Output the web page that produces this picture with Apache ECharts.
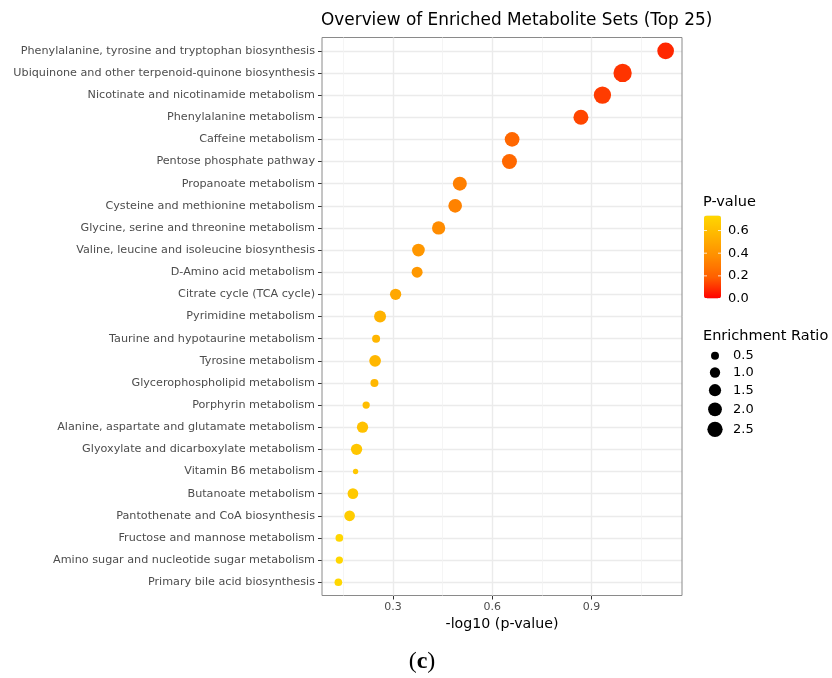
<!DOCTYPE html>
<html><head><meta charset="utf-8">
<script src="https://cdn.jsdelivr.net/npm/echarts@6/dist/echarts.min.js"></script>
<style>html,body{margin:0;padding:0;background:#fff}#c{width:832px;height:678px}</style>
</head><body><div id="c"></div>
<script>
// ---------- data ----------
const pathways = [
  "Phenylalanine, tyrosine and tryptophan biosynthesis",
  "Ubiquinone and other terpenoid-quinone biosynthesis",
  "Nicotinate and nicotinamide metabolism",
  "Phenylalanine metabolism",
  "Caffeine metabolism",
  "Pentose phosphate pathway",
  "Propanoate metabolism",
  "Cysteine and methionine metabolism",
  "Glycine, serine and threonine metabolism",
  "Valine, leucine and isoleucine biosynthesis",
  "D-Amino acid metabolism",
  "Citrate cycle (TCA cycle)",
  "Pyrimidine metabolism",
  "Taurine and hypotaurine metabolism",
  "Tyrosine metabolism",
  "Glycerophospholipid metabolism",
  "Porphyrin metabolism",
  "Alanine, aspartate and glutamate metabolism",
  "Glyoxylate and dicarboxylate metabolism",
  "Vitamin B6 metabolism",
  "Butanoate metabolism",
  "Pantothenate and CoA biosynthesis",
  "Fructose and mannose metabolism",
  "Amino sugar and nucleotide sugar metabolism",
  "Primary bile acid biosynthesis"
];
const negLog10P = [1.124, 0.994, 0.933, 0.868, 0.660, 0.652, 0.502, 0.488, 0.438, 0.377,
  0.373, 0.308, 0.261, 0.249, 0.246, 0.244, 0.219, 0.208, 0.190, 0.187,
  0.179, 0.169, 0.138, 0.138, 0.135];
const enrichmentRatio = [3.03, 3.69, 3.27, 2.39, 2.29, 2.39, 2.05, 1.95, 1.83, 1.64,
  1.17, 1.25, 1.44, 0.50, 1.36, 0.50, 0.37, 1.25, 1.25, 0.08,
  1.09, 1.09, 0.44, 0.37, 0.44];
const xTickLabels = [0.3, 0.6, 0.9];
const xMinorTicks = [0.15, 0.45, 0.75, 1.05];
const pLegendTicks = [0.0, 0.2, 0.4, 0.6];
const sizeLegendValues = [0.5, 1.0, 1.5, 2.0, 2.5];

// ---------- layout ----------
const W = 832, H = 678;
const panel = {left: 322, right: 682, top: 37.5, bottom: 595.5};
const nRows = pathways.length;
const step = (panel.bottom - panel.top) / (nRows - 1 + 1.2);
const rowsTop = panel.top + 0.6 * step;
const rowsBottom = panel.bottom - 0.6 * step;
const xMinData = Math.min(...negLog10P), xMaxData = Math.max(...negLog10P);
const xr = xMaxData - xMinData;
const xMin = xMinData - 0.05 * xr, xMax = xMaxData + 0.05 * xr;
const pValues = negLog10P.map(v => Math.pow(10, -v));
const pMax = Math.max(...pValues);
const sizeOf = r => Math.sqrt(21.5 + 85 * Math.max(r, 0));
const font = 'DejaVu Sans';
const colors = ['#FF0000', '#FF5E00', '#FF8C00', '#FFB300', '#FFD700'];

const seriesData = pathways.map((name, i) => [negLog10P[i], name, pValues[i], enrichmentRatio[i]]);

// colour bar geometry
const cb = {x: 704, y: 215.5, w: 17, h: 83};
const graphics = [];
graphics.push({type: 'text', x: 703, y: 202, style: {text: 'P-value', font: '14.5px ' + font, fill: '#000', textVerticalAlign: 'middle'}});
pLegendTicks.forEach(v => {
  const y = cb.y + cb.h - v / pMax * cb.h;
  graphics.push({type: 'text', x: 728, y: y, style: {text: v.toFixed(1), font: '13px ' + font, fill: '#000', textVerticalAlign: 'middle'}});
  graphics.push({type: 'line', shape: {x1: cb.x, y1: y, x2: cb.x + 3, y2: y}, style: {stroke: 'rgba(255,255,255,0.8)', lineWidth: 1}, z: 100});
  graphics.push({type: 'line', shape: {x1: cb.x + cb.w - 3, y1: y, x2: cb.x + cb.w, y2: y}, style: {stroke: 'rgba(255,255,255,0.8)', lineWidth: 1}, z: 100});
});
graphics.push({type: 'text', x: 703, y: 336.5, style: {text: 'Enrichment Ratio', font: '14.5px ' + font, fill: '#000', textVerticalAlign: 'middle'}});
const sizeLegendY = [355.7, 372.5, 390.2, 409.3, 429.3];
sizeLegendValues.forEach((v, i) => {
  graphics.push({type: 'circle', shape: {cx: 715, cy: sizeLegendY[i], r: sizeOf(v) / 2}, style: {fill: '#000'}});
  graphics.push({type: 'text', x: 733, y: sizeLegendY[i], style: {text: v.toFixed(1), font: '13px ' + font, fill: '#000', textVerticalAlign: 'middle'}});
});
graphics.push({type: 'text', x: 422, y: 662, style: {
  text: '{a|(}{b|c}{a|)}', textAlign: 'center', textVerticalAlign: 'middle',
  rich: {a: {fontFamily: 'Liberation Serif', fontSize: 24, fill: '#000'},
         b: {fontFamily: 'Liberation Serif', fontSize: 24, fontWeight: 'bold', fill: '#000'}}
}});

const chart = echarts.init(document.getElementById('c'), null, {renderer: 'canvas'});
chart.setOption({
  animation: false,
  backgroundColor: '#fff',
  title: {text: 'Overview of Enriched Metabolite Sets (Top 25)', left: 321, top: 12, padding: 0,
    textStyle: {fontFamily: font, fontSize: 16.9, fontWeight: 'normal', color: '#000'}},
  grid: [
    {left: panel.left, right: W - panel.right, top: rowsTop, bottom: H - rowsBottom, containLabel: false},
    {left: panel.left, right: W - panel.right, top: panel.top, bottom: H - panel.bottom, show: true,
      borderColor: '#8a8a8a', borderWidth: 1, backgroundColor: 'transparent', z: 1}
  ],
  xAxis: [
    {type: 'value', gridIndex: 0, min: xMin, max: xMax, show: false},
    {type: 'value', gridIndex: 1, min: xMin, max: xMax,
      axisLine: {show: false}, splitLine: {show: false},
      axisTick: {show: true, length: 4, customValues: xTickLabels, lineStyle: {color: '#333'}},
      axisLabel: {customValues: xTickLabels, formatter: v => v.toFixed(1), margin: 6,
        fontFamily: font, fontSize: 11, color: '#4D4D4D'},
      name: '-log10 (p-value)', nameLocation: 'middle', nameGap: 20,
      nameTextStyle: {fontFamily: font, fontSize: 14.2, color: '#000'}}
  ],
  yAxis: [
    {type: 'category', gridIndex: 0, data: pathways, inverse: true, boundaryGap: false,
      axisLine: {show: false},
      axisTick: {show: true, length: 4, lineStyle: {color: '#333'}},
      axisLabel: {fontFamily: font, fontSize: 11.2, color: '#4D4D4D', margin: 7, interval: 0},
      splitLine: {show: true, lineStyle: {color: '#EBEBEB', width: 1.4}}},
    {type: 'value', gridIndex: 1, min: 0, max: 1, show: false}
  ],
  visualMap: [{
    type: 'continuous', min: 0, max: pMax, dimension: 2, seriesIndex: 0,
    inRange: {color: colors}, calculable: false, hoverLink: false,
    left: cb.x, top: cb.y, itemWidth: cb.w, itemHeight: cb.h, padding: 0, text: null,
    show: true
  }],
  series: [
    {type: 'scatter', xAxisIndex: 0, yAxisIndex: 0, data: seriesData, z: 10,
      symbolSize: v => sizeOf(v[3]), itemStyle: {opacity: 1}},
    {type: 'scatter', xAxisIndex: 1, yAxisIndex: 1, data: [], z: 1, silent: true,
      markLine: {silent: true, symbol: 'none', label: {show: false}, animation: false,
        data: xTickLabels.map(v => ({xAxis: v, lineStyle: {color: '#EBEBEB', width: 1.4, type: 'solid'}}))
          .concat(xMinorTicks.map(v => ({xAxis: v, lineStyle: {color: '#F2F2F2', width: 0.8, type: 'solid'}})))}}
  ],
  graphic: graphics
});
</script></body></html>
